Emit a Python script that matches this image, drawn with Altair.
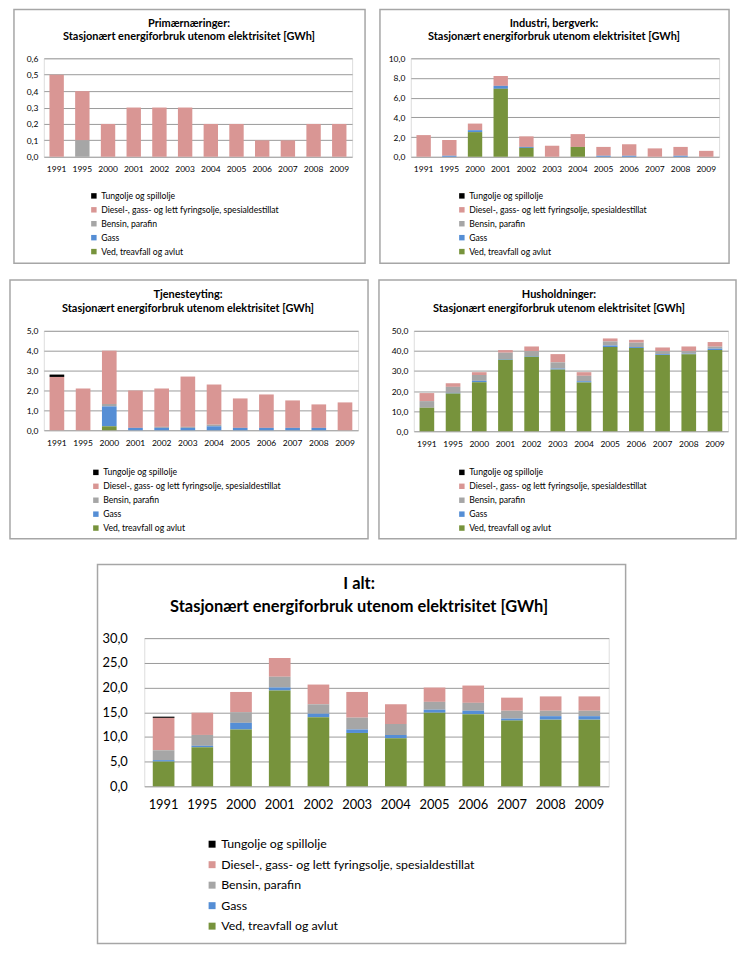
import altair as alt
import pandas as pd

FONT = "Lato"

years = ["1991", "1995", "2000", "2001", "2002", "2003", "2004", "2005", "2006", "2007", "2008", "2009"]
carriers = [
    "Tungolje og spillolje",
    "Diesel-, gass- og lett fyringsolje, spesialdestillat",
    "Bensin, parafin",
    "Gass",
    "Ved, treavfall og avlut",
]
colors = ["#000000", "#D99694", "#A6A6A6", "#558ED5", "#77933C"]
stack_order = [4, 3, 2, 1, 0]

# Primærnæringer
prim_tung = [0, 0, 0, 0, 0, 0, 0, 0, 0, 0, 0, 0]
prim_diesel = [0.5, 0.3, 0.2, 0.3, 0.3, 0.3, 0.2, 0.2, 0.1, 0.1, 0.2, 0.2]
prim_bensin = [0, 0.1, 0, 0, 0, 0, 0, 0, 0, 0, 0, 0]
prim_gass = [0, 0, 0, 0, 0, 0, 0, 0, 0, 0, 0, 0]
prim_ved = [0, 0, 0, 0, 0, 0, 0, 0, 0, 0, 0, 0]

# Industri, bergverk
ind_tung = [0, 0, 0, 0, 0, 0, 0, 0, 0, 0, 0, 0]
ind_diesel = [2.2, 1.6, 0.67, 1.0, 1.07, 1.12, 1.3, 0.9, 1.17, 0.85, 0.9, 0.6]
ind_bensin = [0, 0, 0, 0, 0, 0, 0, 0, 0, 0, 0, 0]
ind_gass = [0, 0.1, 0.2, 0.3, 0.1, 0, 0, 0.1, 0.1, 0, 0.1, 0]
ind_ved = [0, 0, 2.5, 6.9, 0.9, 0, 1.0, 0, 0, 0, 0, 0]

# Tjenesteyting
tj_tung = [0.12, 0, 0, 0, 0, 0, 0, 0, 0, 0, 0, 0]
tj_diesel = [2.68, 2.1, 2.68, 1.88, 1.93, 2.53, 2.02, 1.48, 1.68, 1.38, 1.18, 1.4]
tj_bensin = [0, 0, 0.12, 0, 0.05, 0.05, 0.08, 0, 0, 0, 0, 0]
tj_gass = [0, 0, 1.0, 0.12, 0.12, 0.12, 0.2, 0.12, 0.12, 0.12, 0.12, 0]
tj_ved = [0, 0, 0.2, 0, 0, 0, 0, 0, 0, 0, 0, 0]

# Husholdninger
hh_tung = [0, 0, 0, 0, 0, 0, 0, 0, 0, 0, 0, 0]
hh_diesel = [4.0, 1.8, 1.4, 1.3, 2.3, 4.1, 1.8, 1.5, 1.4, 1.8, 2.3, 2.3]
hh_bensin = [3.3, 3.0, 2.9, 3.2, 2.5, 3.1, 2.7, 2.0, 2.2, 1.5, 1.3, 1.0]
hh_gass = [0, 0.3, 0.7, 0.3, 0.3, 0.5, 0.6, 0.8, 0.5, 0.4, 0.3, 0.7]
hh_ved = [11.7, 18.8, 24.4, 35.6, 37.1, 30.7, 24.3, 41.9, 41.4, 38.0, 38.3, 40.4]

# I alt
tot_tung = [0.25, 0, 0, 0, 0, 0, 0, 0, 0, 0, 0, 0]
tot_diesel = [6.55, 4.5, 4.1, 3.8, 4.0, 5.2, 4.0, 2.9, 3.5, 2.65, 2.9, 2.9]
tot_bensin = [2.0, 2.2, 2.15, 2.2, 1.9, 2.4, 2.2, 1.6, 1.6, 1.6, 1.1, 1.1]
tot_gass = [0.3, 0.3, 1.35, 0.6, 0.7, 0.7, 0.65, 0.6, 0.7, 0.4, 0.7, 0.7]
tot_ved = [5.0, 7.9, 11.5, 19.4, 14.0, 10.8, 9.75, 14.9, 14.6, 13.3, 13.5, 13.5]

prim_ticks = [0, 0.1, 0.2, 0.3, 0.4, 0.5, 0.6]
ind_ticks = [0, 2, 4, 6, 8, 10]
tj_ticks = [0, 1, 2, 3, 4, 5]
hh_ticks = [0, 10, 20, 30, 40, 50]
tot_ticks = [0, 5, 10, 15, 20, 25, 30]

one_row = pd.DataFrame({"k": [0]})
LABEL_EXPR = "replace(format(datum.value, '.1f'), '.', ',')"


def panel(title1, title2, series, ticks, w, h, box, tx, ty1, ty2, tfs,
          lx, ly, lfs, lsym, lrowpad, labfs, xpad, ypad):
    rows = []
    for name, vals, o in zip(carriers, series, stack_order):
        for yr, v in zip(years, vals):
            rows.append({"year": yr, "carrier": name, "value": v, "ord": o})
    df = pd.DataFrame(rows)

    bars = alt.Chart(df).mark_bar().encode(
        x=alt.X("year:N", sort=years,
                scale=alt.Scale(paddingInner=0.44, paddingOuter=0.22),
                axis=alt.Axis(title=None, labelAngle=0, ticks=False, domain=False,
                              labelPadding=xpad, labelFontSize=labfs, labelFont=FONT,
                              labelColor="#000000")),
        y=alt.Y("value:Q", stack="zero",
                scale=alt.Scale(domain=[ticks[0], ticks[-1]], nice=False),
                axis=alt.Axis(title=None, values=ticks, labelExpr=LABEL_EXPR,
                              grid=True, gridColor="#9A9A9A", gridWidth=1,
                              ticks=False, domain=False, labelPadding=ypad,
                              labelFontSize=labfs, labelFont=FONT,
                              labelColor="#000000")),
        color=alt.Color("carrier:N",
                        scale=alt.Scale(domain=carriers, range=colors),
                        legend=alt.Legend(title=None, orient="none", legendX=lx, legendY=ly,
                                          symbolType="square", symbolSize=lsym,
                                          symbolStrokeWidth=0, labelFontSize=lfs,
                                          labelFont=FONT, labelColor="#000000",
                                          rowPadding=lrowpad, padding=0,
                                          labelLimit=600, labelOffset=3)),
        order=alt.Order("ord:Q"),
    )

    bx0, by0, bx1, by1 = box
    frame = alt.Chart(one_row).mark_rect(fill="white", fillOpacity=0, stroke="#A6A6A6",
                                         strokeWidth=1.5).encode(
        x=alt.value(bx0), x2=alt.value(bx1), y=alt.value(by0), y2=alt.value(by1))
    t1 = alt.Chart(one_row).mark_text(text=title1, font=FONT, fontSize=tfs, fontWeight="bold",
                                      align="center", baseline="middle", color="#000000").encode(
        x=alt.value(tx), y=alt.value(ty1))
    t2 = alt.Chart(one_row).mark_text(text=title2, font=FONT, fontSize=tfs, fontWeight="bold",
                                      align="center", baseline="middle", color="#000000").encode(
        x=alt.value(tx), y=alt.value(ty2))
    return alt.layer(frame, bars, t1, t2).properties(width=w, height=h)


SUB = "Stasjonært energiforbruk utenom elektrisitet [GWh]"

p_tl = panel("Primærnæringer:", SUB,
             [prim_tung, prim_diesel, prim_bensin, prim_gass, prim_ved], prim_ticks,
             310, 99, (-30, -49, 323, 206), 146, -34, -21, 11,
             46, 134, 8.7, 30, 4.0, 8.5, 8, 6)
p_tr = panel("Industri, bergverk:", SUB,
             [ind_tung, ind_diesel, ind_bensin, ind_gass, ind_ved], ind_ticks,
             310, 99, (-31, -49, 320, 206), 144, -34, -21, 11,
             47, 134, 8.7, 30, 4.0, 8.5, 8, 6)
p_ml = panel("Tjenesteyting:", SUB,
             [tj_tung, tj_diesel, tj_bensin, tj_gass, tj_ved], tj_ticks,
             316, 100, (-34, -51, 326, 209), 145, -36, -22, 11,
             48, 138, 8.7, 30, 4.0, 8.5, 8, 6)
p_mr = panel("Husholdninger:", SUB,
             [hh_tung, hh_diesel, hh_bensin, hh_gass, hh_ved], hh_ticks,
             316, 101, (-35, -51, 324, 209), 146, -36, -22, 11,
             44, 138, 8.7, 30, 4.0, 8.5, 8, 6)
p_bot = panel("I alt:", SUB,
              [tot_tung, tot_diesel, tot_bensin, tot_gass, tot_ved], tot_ticks,
              467, 149, (-47, -74, 484, 307), 216, -54, -31, 16.5,
              62, 201, 12.4, 49, 7.6, 13, 12, 17)

spacer = alt.Chart(one_row).mark_rect(fill="white", fillOpacity=0, strokeOpacity=0,
                                      opacity=0).encode(
    x=alt.value(0), x2=alt.value(52), y=alt.value(0), y2=alt.value(1)).properties(
    width=52, height=1, view=alt.ViewBackground(stroke="transparent", strokeWidth=0))


def res(c):
    return c.resolve_scale(color="independent", x="independent", y="independent").resolve_legend(
        color="independent")


row1 = res(alt.hconcat(p_tl, p_tr, spacing=11))
row2 = res(alt.hconcat(p_ml, p_mr, spacing=7))
row3 = res(alt.hconcat(spacer, p_bot, spacing=0))
top = res(alt.vconcat(row1, row2, spacing=13))
chart = res(alt.vconcat(top, row3, spacing=22)).properties(
    padding={"left": 0, "top": -3, "right": 0, "bottom": 0}).configure_view(
    stroke="transparent", strokeWidth=0).configure(font=FONT)

chart.save("out.html", embed_options={"renderer": "svg", "actions": False})
